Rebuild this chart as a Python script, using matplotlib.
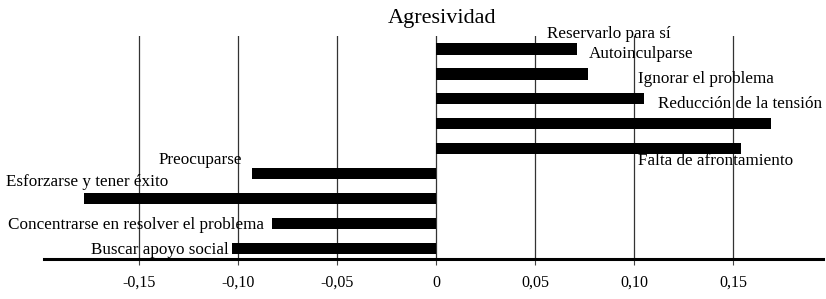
import matplotlib.pyplot as plt
from numpy import arange

# Datos (de abajo hacia arriba)
estrategias = ["Buscar apoyo social",
               "Concentrarse en resolver el problema",
               "Esforzarse y tener éxito",
               "Preocuparse",
               "Falta de afrontamiento",
               "Reducción de la tensión",
               "Ignorar el problema",
               "Autoinculparse",
               "Reservarlo para sí"]
valores = [-0.103, -0.083, -0.178, -0.093, 0.154, 0.169, 0.105, 0.077, 0.071]
ticks = [-0.15, -0.10, -0.05, 0, 0.05, 0.10, 0.15]
tick_labels = ["-0,15", "-0,10", "-0,05", "0", "0,05", "0,10", "0,15"]

# Posicion de cada etiqueta (x en datos, desplazamiento vertical en categorias)
label_x = [-0.174, -0.216, -0.217, -0.140, 0.102, 0.112, 0.102, 0.077, 0.056]
label_dy = [-0.05, -0.05, 0.65, 0.55, -0.5, 0.8, 0.8, 0.8, 0.62]

plt.rcParams["font.family"] = ["Liberation Serif", "DejaVu Serif"]

fig = plt.figure(figsize=(8.26, 2.99), dpi=100)
W, H = 826, 299
x0, x1, ytop, ybot = 44, 823, 36, 259
ax = fig.add_axes([x0 / W, (H - ybot) / H, (x1 - x0) / W, (ybot - ytop) / H])

pos = arange(len(estrategias))
ax.barh(pos, valores, height=0.45, color="black", zorder=3)

ax.set_xlim((x0 - 436) / 1980, (x1 - 436) / 1980)
ax.set_ylim(-0.42, 8.52)
ax.set_xticks(ticks, labels=tick_labels, fontsize=11.5)
ax.set_yticks([])
ax.tick_params(axis="x", direction="out", length=4, width=0.8,
               color="#444444", pad=7.5)
ax.grid(axis="x", color="#333333", linewidth=0.9, zorder=1)

for side in ["top", "left", "right"]:
    ax.spines[side].set_visible(False)
ax.spines["bottom"].set_linewidth(2.2)
ax.spines["bottom"].set_zorder(4)

for i, nombre in enumerate(estrategias):
    ax.text(label_x[i], pos[i] + label_dy[i], nombre,
            ha="left", va="center", fontsize=12.3, zorder=5,
            clip_on=False)

fig.text(442 / W, 1 - 18 / H, "Agresividad", ha="center", va="center",
         fontsize=16)

fig.savefig("out.png", dpi=100)
